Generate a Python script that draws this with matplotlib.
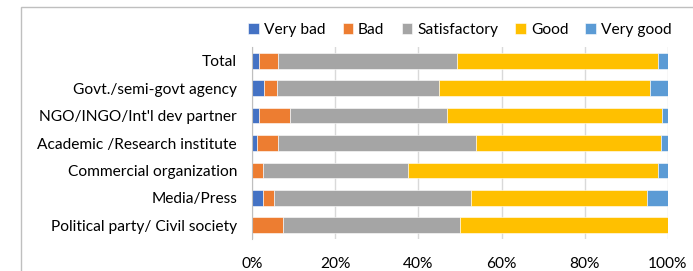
import matplotlib as mpl
mpl.use('Agg')
from matplotlib import pyplot as plt
from matplotlib.patches import Rectangle
from matplotlib.ticker import PercentFormatter
import numpy as np

plt.rcParams['font.family'] = ['Lato', 'DejaVu Sans']

categories = ["Total", "Govt./semi-govt agency", "NGO/INGO/Int'l dev partner",
              "Academic /Research institute", "Commercial organization",
              "Media/Press", "Political party/ Civil society"]
series = ["Very bad", "Bad", "Satisfactory", "Good", "Very good"]
very_bad = [1.5, 2.9, 1.6, 1.2, 0.0, 2.6, 0.0]
bad = [4.8, 3.0, 7.5, 5.1, 2.6, 2.7, 7.5]
satisfactory = [42.9, 39.1, 37.8, 47.5, 35.0, 47.4, 42.6]
good = [48.4, 50.7, 51.7, 44.5, 60.0, 42.2, 49.9]
very_good = [2.4, 4.3, 1.4, 1.7, 2.4, 5.1, 0.0]
colors = ["#4472C4", "#ED7D31", "#A5A5A5", "#FFC000", "#5B9BD5"]

fig = plt.figure(figsize=(6.93, 2.71), dpi=100)
# outer chart frame (only top and left edges fall inside the picture)
fig.patches.append(Rectangle((21 / 693, -0.1), 1.0, 1.1 - 7 / 271, transform=fig.transFigure,
                             fill=False, edgecolor="#bfbfbf", linewidth=1.0))

ax = fig.add_axes([252.3 / 693, 1 - 239 / 271, 415.4 / 693, 192 / 271])

y = np.arange(len(categories))
left = np.zeros(len(categories))
for name, vals, c in zip(series, [very_bad, bad, satisfactory, good, very_good], colors):
    vals = np.array(vals)
    ax.barh(y, vals, left=left, height=0.575, color=c, label=name,
            edgecolor="white", linewidth=0.4)
    left += vals

ax.set_ylim(len(categories) - 0.5, -0.5)
ax.set_xlim(0, 100)
ax.set_yticks(y)
ax.set_yticklabels(categories, fontsize=11.2)
ax.set_xticks([0, 20, 40, 60, 80, 100])
ax.xaxis.set_major_formatter(PercentFormatter(decimals=0))
ax.tick_params(axis='x', labelsize=11.2, length=0, pad=13)
ax.tick_params(axis='y', length=0, pad=11)
ax.grid(axis='x', color="#d9d9d9", linewidth=1.0)
ax.set_axisbelow(True)
for s in ["top", "right", "bottom"]:
    ax.spines[s].set_visible(False)
ax.spines["left"].set_color("#bfbfbf")

ax.legend(loc='lower center', bbox_to_anchor=(0.5, 1.02), ncol=5, frameon=False,
          fontsize=11.2, handlelength=0.7, handleheight=0.7, handletextpad=0.3,
          columnspacing=1.1, borderaxespad=0)

plt.savefig("out.png", dpi=100)
plt.close()
